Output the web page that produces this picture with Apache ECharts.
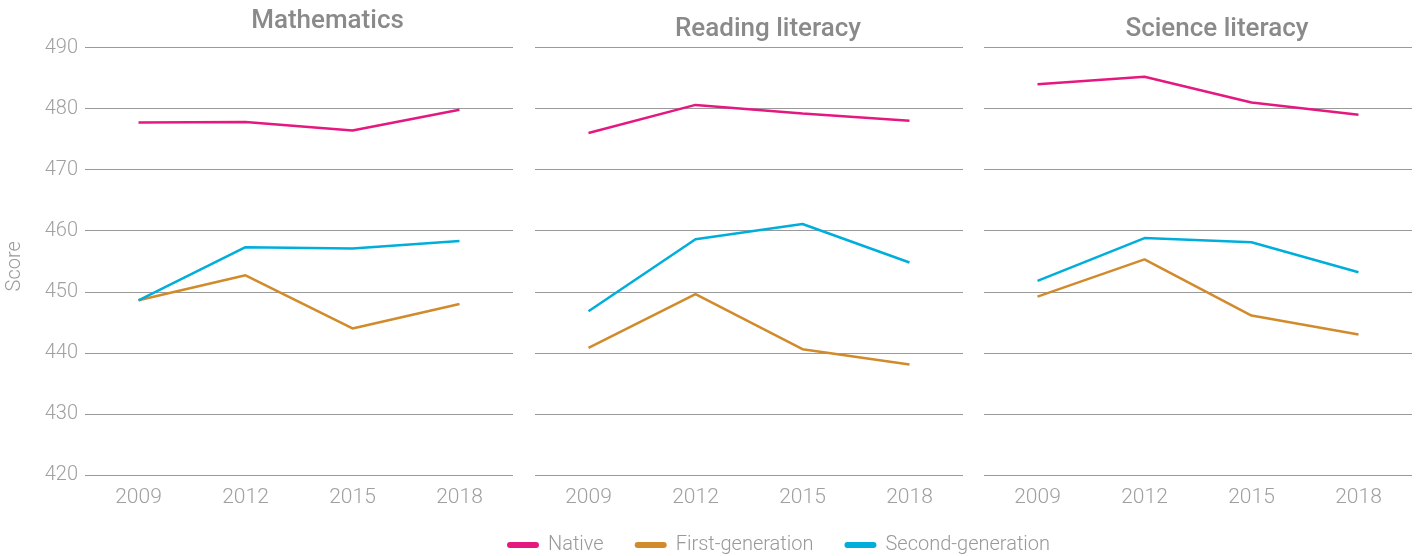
<!DOCTYPE html>
<html lang="en">
<head>
    <meta charset="UTF-8">
    <title>Scores by migration background</title>
    <script src="https://cdn.jsdelivr.net/npm/echarts@6/dist/echarts.min.js"></script>
</head>
<body style="margin:0">
<div id="main" style="width: 1416px;height:556px;"></div>
<script>
    // data
    var years = ['2009', '2012', '2015', '2018'];
    var subjects = ['Mathematics', 'Reading literacy', 'Science literacy'];
    var seriesNames = ['Native', 'First-generation', 'Second-generation'];
    var colors = ['#e5187f', '#d18b2c', '#00aedb'];

    var mathNative = [477.7, 477.8, 476.4, 479.8];
    var mathFirst = [448.6, 452.7, 444.0, 448.0];
    var mathSecond = [448.6, 457.3, 457.1, 458.3];

    var readNative = [476.0, 480.6, 479.2, 478.0];
    var readFirst = [440.8, 449.6, 440.6, 438.1];
    var readSecond = [446.8, 458.6, 461.1, 454.8];

    var sciNative = [484.0, 485.2, 481.0, 479.0];
    var sciFirst = [449.2, 455.3, 446.1, 443.0];
    var sciSecond = [451.8, 458.8, 458.1, 453.2];

    var panels = [
        [mathNative, mathFirst, mathSecond],
        [readNative, readFirst, readSecond],
        [sciNative, sciFirst, sciSecond]
    ];

    var font = 'Roboto';
    var gridLeft = [85, 535, 984];
    var gridWidth = 428;
    var titleX = [327.5, 768, 1217];
    var titleY = [8, 16, 16];
    // pill shaped legend marker
    var pill = 'path://M3,0 H29 A3,3 0 0 1 29,6 H3 A3,3 0 0 1 3,0 Z';

    var myChart = echarts.init(document.getElementById('main'));

    var option = {
        animation: false,
        color: colors,
        title: subjects.map(function (s, i) {
            return {
                text: s,
                left: titleX[i],
                top: titleY[i],
                textAlign: 'center',
                padding: 0,
                textStyle: { fontFamily: font, fontSize: 26, fontWeight: 500, color: '#8a8a8a' }
            };
        }),
        legend: {
            left: 502,
            top: 530,
            itemWidth: 32,
            itemHeight: 6,
            itemGap: 31,
            icon: pill,
            textStyle: { fontFamily: font, fontSize: 20, fontWeight: 300, color: '#999', padding: [0, 0, 0, 4] },
            data: seriesNames
        },
        grid: gridLeft.map(function (l) {
            return { left: l, width: gridWidth, top: 47.5, height: 427.5 };
        }),
        xAxis: gridLeft.map(function (l, i) {
            return {
                type: 'category',
                gridIndex: i,
                data: years,
                axisLine: { show: false },
                axisTick: { show: false },
                axisLabel: { fontFamily: font, fontSize: 21, fontWeight: 300, color: '#a0a0a0', margin: 12 }
            };
        }),
        yAxis: gridLeft.map(function (l, i) {
            return {
                type: 'value',
                gridIndex: i,
                min: 420,
                max: 490,
                interval: 10,
                name: i === 0 ? 'Score' : '',
                nameLocation: 'middle',
                nameGap: 60,
                nameTextStyle: { fontFamily: font, fontSize: 20, fontWeight: 300, color: '#999', padding: [0, 10, 0, 0] },
                axisLine: { show: false },
                axisTick: { show: false },
                axisLabel: { show: i === 0, fontFamily: font, fontSize: 20, fontWeight: 300, color: '#a0a0a0', margin: 7 },
                splitLine: { lineStyle: { color: '#9a9a9a', width: 1 } }
            };
        }),
        series: []
    };

    panels.forEach(function (p, i) {
        p.forEach(function (vals, j) {
            option.series.push({
                name: seriesNames[j],
                type: 'line',
                xAxisIndex: i,
                yAxisIndex: i,
                data: vals,
                symbol: 'none',
                lineStyle: { width: 2.5, color: colors[j] }
            });
        });
    });

    myChart.setOption(option);
</script>
</body>
</html>
